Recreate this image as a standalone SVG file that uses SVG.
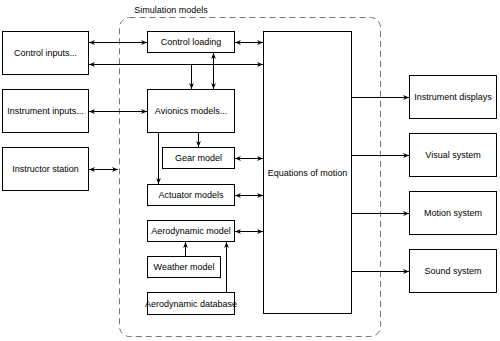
<svg xmlns="http://www.w3.org/2000/svg" width="500" height="341" viewBox="0 0 500 341">
<defs>
<marker id="a" viewBox="0 0 10 10" refX="10" refY="5" markerWidth="6" markerHeight="6" markerUnits="userSpaceOnUse" orient="auto-start-reverse"><path d="M0,1 L10,5 L0,9 L3,5 z" fill="#000"/></marker>
<style>
.b{fill:#fff;stroke:#000;stroke-width:1}
.t{font-family:"Liberation Sans",Arial,sans-serif;font-size:9px;fill:#000;text-anchor:middle;dominant-baseline:central}
.c{fill:none;stroke:#000;stroke-width:1}
.e{marker-end:url(#a)}
.s{marker-start:url(#a)}
</style>
</defs>
<rect width="500" height="341" fill="#fff"/>
<g id="container">
<rect x="119.5" y="17.5" width="261" height="319" rx="10" fill="none" stroke="#777" stroke-dasharray="6,4"/>
<text class="t" x="171" y="9.5">Simulation models</text>
</g>
<g id="control-inputs"><rect class="b" x="2.5" y="31.5" width="86" height="43"/><text class="t" x="45.5" y="53">Control inputs...</text></g>
<g id="instrument-inputs"><rect class="b" x="2.5" y="89.5" width="86" height="43"/><text class="t" x="45.5" y="111">Instrument inputs...</text></g>
<g id="instructor-station"><rect class="b" x="2.5" y="147.5" width="86" height="43"/><text class="t" x="45.5" y="169">Instructor station</text></g>
<g id="control-loading"><rect class="b" x="147.5" y="31.5" width="87" height="21"/><text class="t" x="191" y="42">Control loading</text></g>
<g id="avionics"><rect class="b" x="147.5" y="89.5" width="87" height="43"/><text class="t" x="191" y="111">Avionics models...</text></g>
<g id="gear"><rect class="b" x="162.5" y="147.5" width="72" height="21"/><text class="t" x="198.5" y="158">Gear model</text></g>
<g id="actuator"><rect class="b" x="147.5" y="184.5" width="87" height="21"/><text class="t" x="191" y="195">Actuator models</text></g>
<g id="aero-model"><rect class="b" x="147.5" y="220.5" width="87" height="21"/><text class="t" x="191" y="231">Aerodynamic model</text></g>
<g id="weather"><rect class="b" x="147.5" y="256.5" width="73" height="21"/><text class="t" x="184" y="267">Weather model</text></g>
<g id="aero-db"><rect class="b" x="147.5" y="292.5" width="87" height="22"/><text class="t" x="191" y="303.5">Aerodynamic database</text></g>
<g id="eom"><rect class="b" x="263.5" y="31.5" width="88" height="282"/><text class="t" x="307.5" y="173">Equations of motion</text></g>
<g id="instrument-displays"><rect class="b" x="409.5" y="75.5" width="87" height="43"/><text class="t" x="453" y="97">Instrument displays</text></g>
<g id="visual"><rect class="b" x="409.5" y="133.5" width="87" height="43"/><text class="t" x="453" y="155">Visual system</text></g>
<g id="motion"><rect class="b" x="409.5" y="191.5" width="87" height="43"/><text class="t" x="453" y="213">Motion system</text></g>
<g id="sound"><rect class="b" x="409.5" y="249.5" width="87" height="43"/><text class="t" x="453" y="271">Sound system</text></g>
<g id="connectors">
<path class="c s e" d="M89,42.5 H147"/>
<path class="c s e" d="M89,64.5 H263"/>
<path class="c e" d="M191.5,64.5 V89"/>
<path class="c s e" d="M213.5,53 V89"/>
<path class="c s e" d="M235,42.5 H263"/>
<path class="c s e" d="M89,111.5 H147"/>
<path class="c s e" d="M89,169.5 H118"/>
<path class="c e" d="M198.5,133 V147"/>
<path class="c e" d="M158.5,133 V184"/>
<path class="c s e" d="M235,158.5 H263"/>
<path class="c s e" d="M235,195.5 H263"/>
<path class="c s e" d="M235,231.5 H263"/>
<path class="c e" d="M185.5,256 V242"/>
<path class="c e" d="M226.5,292 V242"/>
<path class="c e" d="M352,97.5 H409"/>
<path class="c e" d="M352,155.5 H409"/>
<path class="c e" d="M352,213.5 H409"/>
<path class="c e" d="M352,271.5 H409"/>
</g>
</svg>
